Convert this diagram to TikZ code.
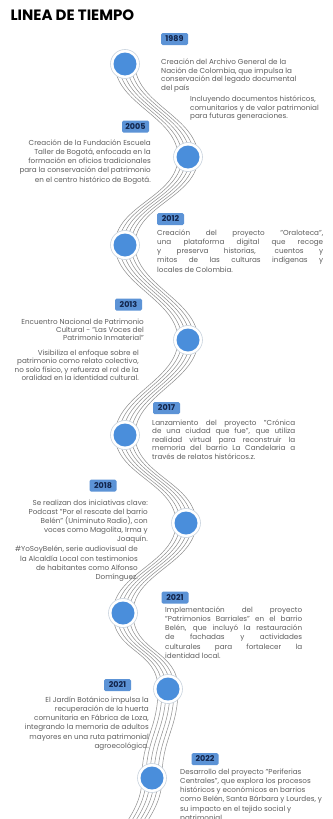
\documentclass[tikz,border=0pt]{standalone}
\usepackage{fontspec}
\setmainfont{Poppins}
\usetikzlibrary{backgrounds}
\definecolor{dotblue}{HTML}{4A8EDB}
\definecolor{boxblue}{HTML}{5C93D6}
\definecolor{yearnavy}{HTML}{12244A}
\definecolor{txtgray}{HTML}{5E5E5E}
\definecolor{wavegray}{HTML}{8C8C8C}
\definecolor{ringgray}{HTML}{C9D3DE}
\tikzset{
  yeardot/.style={circle, fill=white, draw=ringgray, line width=0.6pt, minimum size=29pt, inner sep=0pt,
    path picture={\fill[dotblue] (path picture bounding box.center) circle (11.5pt);}},
  yearbox/.style={rounded corners=1.5pt, fill=boxblue, text=yearnavy, font=\fontsize{8}{9}\selectfont\bfseries,
    minimum width=27pt, minimum height=12pt, inner sep=0pt},
  infotext/.style={text=txtgray, font=\fontsize{7.2}{9.2}\selectfont, inner sep=0pt},
  wave/.style={draw=wavegray, line width=0.5pt},
}
\begin{document}
\begin{tikzpicture}[x=1pt, y=-1pt]
\useasboundingbox (0,0) rectangle (332,819);
\node[anchor=west, font=\fontsize{15}{16}\selectfont\bfseries] (title) at (7,15) {LINEA DE TIEMPO};

% circles
\node[yeardot] (dot1989) at (125,64) {};
\node[yeardot] (dot2005) at (188,157) {};
\node[yeardot] (dot2012) at (125,245) {};
\node[yeardot] (dot2013) at (188,340) {};
\node[yeardot] (dot2017) at (125,435) {};
\node[yeardot] (dot2018) at (186,523) {};
\node[yeardot] (dot2021a) at (123,613) {};
\node[yeardot] (dot2021b) at (168,689) {};
\node[yeardot] (dot2022) at (152,778) {};
\coordinate (waveend) at (118,872);

% years
\node[yearbox] (year1989) at (174.5,39) {1989};
\node[yearbox] (year2005) at (135.5,126.5) {2005};
\node[yearbox] (year2012) at (170.5,219) {2012};
\node[yearbox] (year2013) at (128.5,304.5) {2013};
\node[yearbox] (year2017) at (166.5,408) {2017};
\node[yearbox] (year2018) at (103,485.5) {2018};
\node[yearbox] (year2021a) at (175,597.5) {2021};
\node[yearbox] (year2021b) at (117.5,685) {2021};
\node[yearbox] (year2022) at (205,759) {2022};

% texts
\node[infotext, anchor=north west, align=left, font=\fontsize{7.2}{8.8}\selectfont] (text1989) at (161,58.5) {Creación del Archivo General de la\\Nación de Colombia, que impulsa la\\conservación del legado documental\\del país};
\node[infotext, anchor=north west, align=left, font=\fontsize{7.2}{8.8}\selectfont] (text1989b) at (190,95.5) {Incluyendo documentos históricos,\\comunitarios y de valor patrimonial\\para futuras generaciones.};
\node[infotext, anchor=north east, align=right] (text2005) at (151,139.5) {Creación de la Fundación Escuela\\Taller de Bogotá, enfocada en la\\formación en oficios tradicionales\\para la conservación del patrimonio\\en el centro histórico de Bogotá.};
\node[infotext, anchor=north west, align=justify, text width=166pt] (text2012) at (157,229.5) {Creación del proyecto "Oraloteca",\linebreak una plataforma digital que recoge\linebreak y preserva historias, cuentos y\linebreak mitos de las culturas indígenas y\linebreak locales de Colombia.};
\node[infotext, anchor=north east, align=right, font=\fontsize{7.2}{8.4}\selectfont] (text2013) at (144,318.5) {Encuentro Nacional de Patrimonio\\Cultural - "Las Voces del\\Patrimonio Inmaterial"};
\node[infotext, anchor=north east, align=right, font=\fontsize{7.2}{8.4}\selectfont] (text2013b) at (139,349.5) {Visibiliza el enfoque sobre el\\patrimonio como relato colectivo,\\no solo físico, y refuerza el rol de la\\oralidad en la identidad cultural.};
\node[infotext, anchor=north west, align=justify, text width=143pt, font=\fontsize{7.2}{8.5}\selectfont] (text2017) at (152,419.5) {Lanzamiento del proyecto "Crónica\linebreak de una ciudad que fue", que utiliza\linebreak realidad virtual para reconstruir la\linebreak memoria del barrio La Candelaria a\linebreak través de relatos históricos.z.};
\node[infotext, anchor=north east, align=right] (text2018) at (148,499.5) {Se realizan dos iniciativas clave:\\Podcast "Por el rescate del barrio\\Belén" (Uniminuto Radio), con\\voces como Magolita, Irma y\\Joaquín.};
\node[infotext, anchor=north east, align=right] (text2018b) at (138,546) {\#YoSoyBelén, serie audiovisual de\\la Alcaldía Local con testimonios\\de habitantes como Alfonso\\Domínguez.};
\node[infotext, anchor=north west, align=justify, text width=137pt] (text2021a) at (165,606.5) {Implementación del proyecto\linebreak "Patrimonios Barriales" en el barrio\linebreak Belén, que incluyó la restauración\linebreak de fachadas y actividades\linebreak culturales para fortalecer la\linebreak identidad local.};
\node[infotext, anchor=north east, align=right] (text2021b) at (149,696.5) {El Jardín Botánico impulsa la\\recuperación de la huerta\\comunitaria en Fábrica de Loza,\\integrando la memoria de adultos\\mayores en una ruta patrimonial\\agroecológica.};
\node[infotext, anchor=north west, align=left] (text2022) at (180,768.5) {Desarrollo del proyecto "Periferias\\Centrales", que explora los procesos\\históricos y económicos en barrios\\como Belén, Santa Bárbara y Lourdes, y\\su impacto en el tejido social y\\patrimonial.};

% wave behind the circles
\begin{pgfonlayer}{background}
\fill[white] (0,0) rectangle (332,819);
\foreach \a/\b in {dot1989/dot2005, dot2005/dot2012, dot2012/dot2013, dot2013/dot2017,
    dot2017/dot2018, dot2018/dot2021a, dot2021a/dot2021b, dot2021b/dot2022, dot2022/waveend}
  \foreach \d in {-10,-6,-2,2,6,10}
    \draw[wave] ([xshift=\d pt]\a.center) .. controls +(0,40) and +(0,-40) .. ([xshift=\d pt]\b.center);
\end{pgfonlayer}
\end{tikzpicture}
\end{document}
